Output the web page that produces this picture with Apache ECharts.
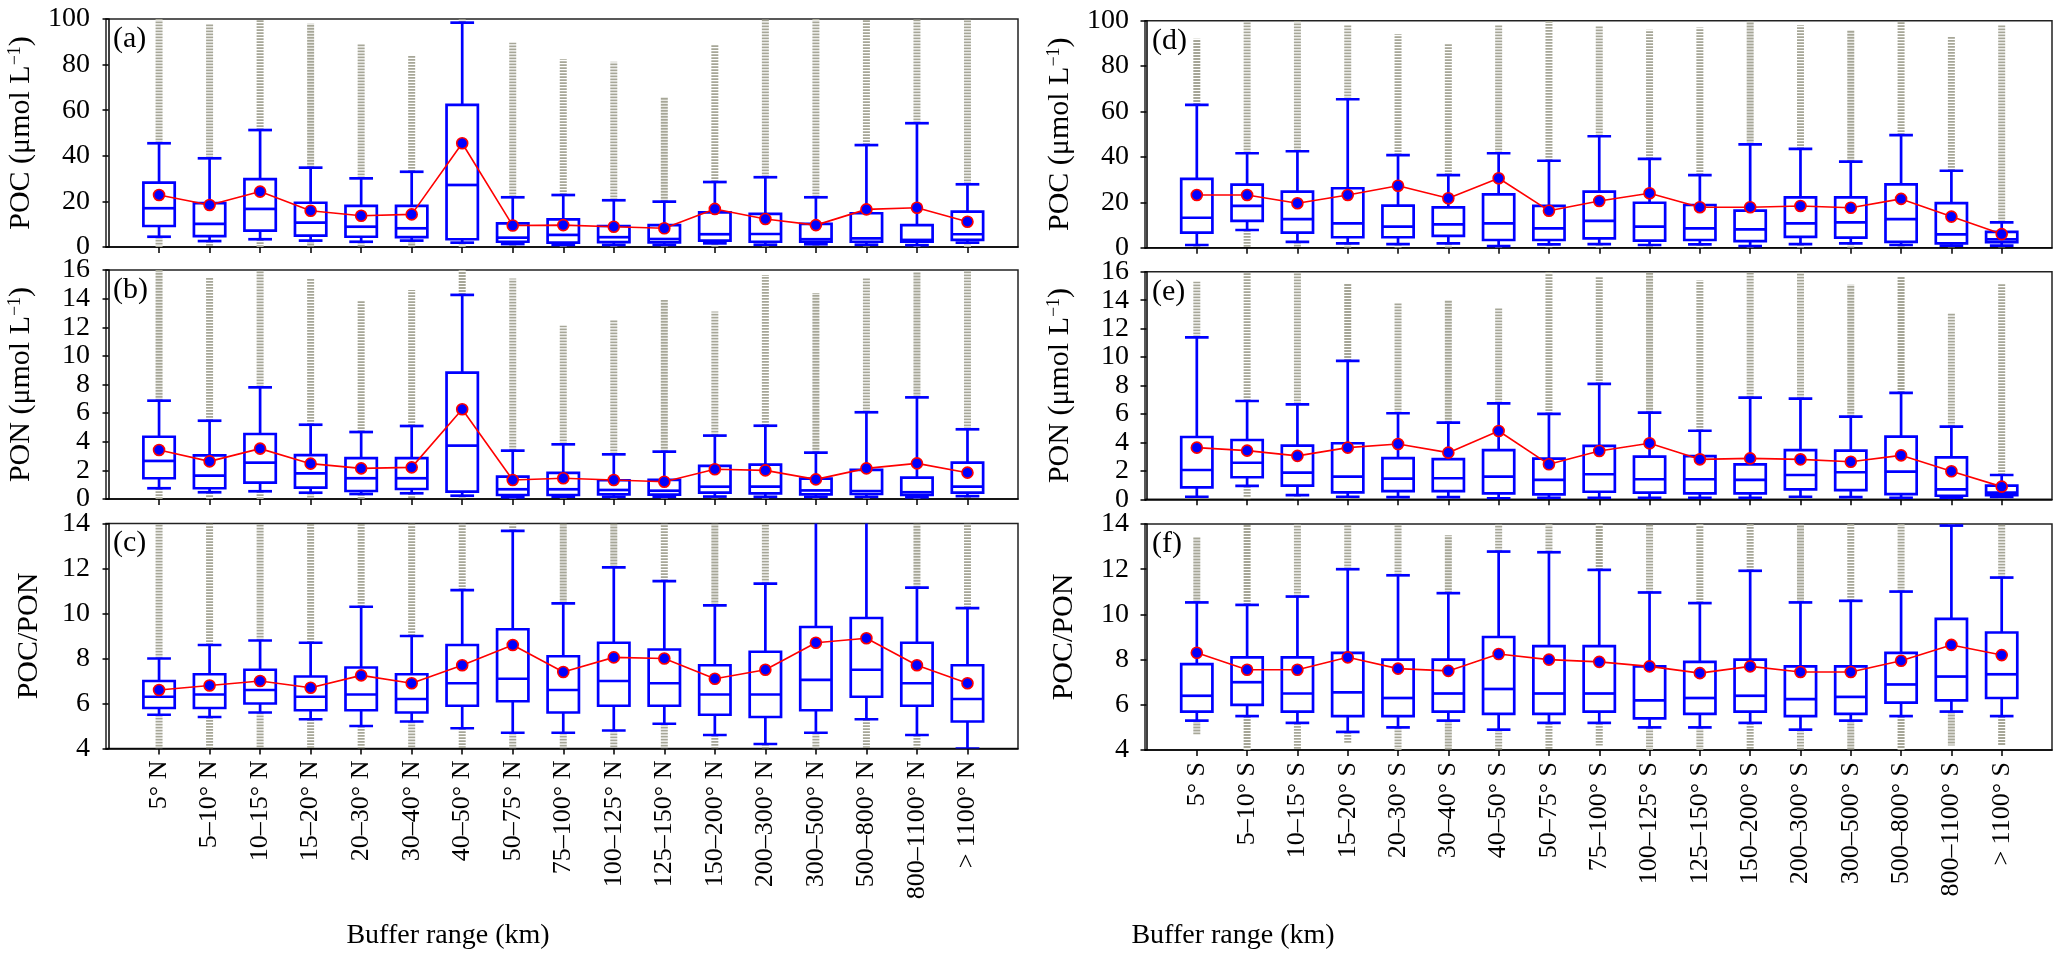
<!DOCTYPE html>
<html><head><meta charset="utf-8">
<script src="https://cdn.jsdelivr.net/npm/echarts@6/dist/echarts.min.js"></script>
<style>html,body{margin:0;padding:0;background:#fff}#c{width:2067px;height:961px}</style>
</head><body><div id="c"></div>
<script>
const catsN = ['5° N','5–10° N','10–15° N','15–20° N','20–30° N','30–40° N','40–50° N','50–75° N','75–100° N','100–125° N','125–150° N','150–200° N','200–300° N','300–500° N','500–800° N','800–1100° N','> 1100° N'];
const catsS = ['5° S','5–10° S','10–15° S','15–20° S','20–30° S','30–40° S','40–50° S','50–75° S','75–100° S','100–125° S','125–150° S','150–200° S','200–300° S','300–500° S','500–800° S','800–1100° S','> 1100° S'];

// (a) POC, north
const aLow  = [4.5,2.6,3.4,2.8,2.3,2.8,1.9,1.3,0.9,0.9,0.9,1.6,1.0,1.2,1.0,0.8,1.9];
const aQ1   = [9.2,4.8,7.2,5.0,4.5,4.3,3.4,2.3,1.9,2.1,2.0,2.8,2.3,2.3,2.3,2.3,3.1];
const aMed  = [17.0,10.1,16.7,10.7,8.9,8.2,27.2,4.1,5.3,4.3,3.5,5.6,5.7,3.4,3.8,3.1,5.6];
const aQ3   = [28.2,19.2,29.8,19.4,18.0,18.0,62.3,10.4,12.1,9.2,9.6,15.2,14.5,10.1,14.8,9.6,15.5];
const aHigh = [45.5,38.9,51.3,34.8,30.1,33.0,98.4,21.8,22.8,20.5,19.9,28.5,30.6,21.8,44.7,54.3,27.5];
const aMean = [22.8,18.4,24.3,15.9,13.7,14.3,45.5,9.4,9.6,8.9,8.2,16.7,12.3,9.6,16.5,17.2,11.1];
const aOutHi= [100,98,100,98,89,84,100,89.6,82.3,81.3,65.6,88.9,100,100,100,100,100];
const aOutLo= [0,0,0,0,0,0,0,0,0,0,0,0,0,0,0,0,0];

// (b) PON, north
const bLow  = [0.75,0.47,0.54,0.44,0.35,0.4,0.23,0.12,0.16,0.15,0.15,0.17,0.15,0.15,0.15,0.12,0.2];
const bQ1   = [1.45,0.75,1.14,0.79,0.56,0.7,0.51,0.28,0.28,0.33,0.3,0.44,0.4,0.33,0.35,0.28,0.44];
const bMed  = [2.66,1.63,2.54,1.79,1.45,1.45,3.73,0.68,0.68,0.63,0.58,0.86,0.86,0.6,0.56,0.47,0.86];
const bQ3   = [4.35,3.05,4.54,3.07,2.86,2.86,8.83,1.56,1.82,1.31,1.33,2.31,2.4,1.42,2.03,1.49,2.54];
const bHigh = [6.87,5.47,7.8,5.19,4.68,5.1,14.26,3.38,3.82,3.12,3.31,4.43,5.12,3.24,6.06,7.1,4.87];
const bMean = [3.42,2.63,3.52,2.47,2.14,2.21,6.27,1.33,1.45,1.33,1.21,2.08,2.0,1.37,2.14,2.49,1.84];
const bOutHi= [16,15.5,16,15.4,13.9,14.6,16,15.4,12.1,12.5,13.9,13.1,15.65,14.4,15.5,15.9,16];
const bOutLo= [0,0,0,0,0,0,0,0,0,0,0,0,0,0,0,0,0];

// (c) POC/PON, north
const cLow  = [5.5,5.4,5.6,5.3,5.0,5.2,4.9,4.7,4.7,4.8,5.1,4.6,4.2,4.7,5.3,4.6,4.0];
const cQ1   = [5.8,5.8,6.0,5.7,5.7,5.6,5.9,6.1,5.6,5.9,5.9,5.5,5.4,5.7,6.3,5.9,5.2];
const cMed  = [6.3,6.4,6.6,6.3,6.4,6.2,6.9,7.1,6.6,7.0,6.9,6.4,6.4,7.05,7.5,6.9,6.2];
const cQ3   = [7.0,7.3,7.5,7.2,7.6,7.3,8.6,9.3,8.1,8.7,8.4,7.7,8.3,9.4,9.8,8.7,7.7];
const cHigh = [8.0,8.6,8.8,8.7,10.3,9.0,11.04,13.67,10.45,12.05,11.44,10.36,11.33,14.5,14.5,11.15,10.24];
const cMean = [6.6,6.8,7.0,6.7,7.25,6.9,7.7,8.6,7.4,8.05,8.0,7.1,7.5,8.7,8.9,7.7,6.9];
const cOutHi= [14,14,14,14,14,14,14,14,14,14,14,14,14,14,14,14,14];
const cOutLo= [4,4,4,4,4,4,4,4,4,4,4,4,4,4,4,4,4];

// (d) POC, south
const dLow  = [1.2,7.8,2.6,1.9,1.6,1.9,0.7,1.5,1.6,1.2,1.5,0.7,1.6,1.9,1.2,0.9,0.9];
const dQ1   = [6.6,11.8,6.6,4.6,4.6,5.2,3.4,3.4,4.1,3.1,3.4,2.9,4.8,4.4,2.6,1.9,2.4];
const dMed  = [13.2,18.4,12.6,10.7,9.3,10.3,10.7,8.5,11.8,9.3,8.5,8.1,10.7,11.2,12.6,5.9,3.7];
const dQ3   = [30.3,27.8,24.7,26.2,18.5,17.8,23.5,18.4,24.7,19.8,18.8,16.3,22.2,22.2,27.9,19.6,7.0];
const dHigh = [62.9,41.6,42.5,65.4,40.8,32.0,41.6,38.3,49.1,39.1,32.0,45.5,43.5,37.9,49.6,33.9,11.2];
const dMean = [23.2,23.2,19.6,23.2,27.3,21.8,30.6,16.3,20.6,24.0,17.8,17.8,18.4,17.6,21.5,13.7,6.0];
const dOutHi= [92,100,100,98,94,90,98,100,98,96,97,100,98,96,100,93,98];
const dOutLo= [0,0,0,0,0,0,0,0,0,0,0,0,0,0,0,0,0];

// (e) PON, south
const eLow  = [0.18,0.94,0.3,0.18,0.15,0.15,0.07,0.1,0.1,0.1,0.1,0.1,0.18,0.15,0.1,0.1,0.16];
const eQ1   = [0.84,1.55,0.96,0.49,0.58,0.58,0.42,0.35,0.53,0.47,0.42,0.42,0.7,0.65,0.37,0.25,0.3];
const eMed  = [2.06,2.57,1.87,1.59,1.45,1.48,1.59,1.36,1.76,1.41,1.41,1.36,1.71,1.9,1.94,0.7,0.47];
const eQ3   = [4.38,4.17,3.77,3.94,2.9,2.83,3.45,2.86,3.75,3.0,3.04,2.46,3.45,3.42,4.4,2.95,0.96];
const eHigh = [11.39,6.91,6.68,9.73,6.05,5.39,6.75,6.0,8.11,6.09,4.82,7.15,7.08,5.81,7.48,5.11,1.71];
const eMean = [3.63,3.42,3.05,3.63,3.89,3.28,4.8,2.46,3.4,3.94,2.81,2.88,2.81,2.64,3.09,1.97,0.89];
const eOutHi= [15.3,16,16,15.2,13.8,14.0,13.5,16,15.65,16,15.4,16,16,15.1,15.7,13.1,15.2];
const eOutLo= [0,0,0,0,0,0,0,0,0,0,0,0,0,0,0,0,0];

// (f) POC/PON, south
const fLow  = [5.3,5.5,5.2,4.8,5.0,5.3,4.9,5.2,5.2,5.0,5.0,5.2,4.9,5.3,5.5,5.7,5.5];
const fQ1   = [5.7,6.0,5.7,5.5,5.5,5.7,5.6,5.6,5.7,5.4,5.6,5.7,5.5,5.6,6.1,6.2,6.3];
const fMed  = [6.4,7.0,6.5,6.55,6.3,6.5,6.7,6.5,6.5,6.2,6.3,6.4,6.25,6.35,6.9,7.25,7.35];
const fQ3   = [7.8,8.1,8.1,8.3,8.0,8.0,9.0,8.6,8.6,7.7,7.9,8.0,7.7,7.7,8.3,9.8,9.2];
const fHigh = [10.53,10.42,10.79,12.0,11.73,10.94,12.78,12.75,11.97,10.97,10.5,11.93,10.53,10.6,11.01,13.93,11.63];
const fMean = [8.3,7.55,7.55,8.1,7.6,7.5,8.25,8.0,7.9,7.7,7.4,7.7,7.45,7.45,7.95,8.65,8.2];
const fOutHi= [13.4,14,14,14,14,13.5,14,14,14,14,14,14,14,14,14,14,14];
const fOutLo= [4.7,4,4,4.3,4,4,4,4,4.2,4,4,4,4,4,4,4.2,4.2];

const xTitle = 'Buffer range (km)';
const BLUE = '#0000ff', RED = '#ff0000', GREY = '#a6a697';
const FONT = '"Liberation Serif", "Times New Roman", serif';

const panels = [
  {id:'a', grid:{left:106, top:19, width:912, height:228}, xmin:-0.05, y:[0,100,20], name:'POC (μmol L{s|−1})', gap:70, cats:catsN, lab:false,
   d:[aLow,aQ1,aMed,aQ3,aHigh,aMean,aOutHi,aOutLo]},
  {id:'b', grid:{left:106, top:270, width:912, height:229}, xmin:-0.05, y:[0,16,2], name:'PON (μmol L{s|−1})', gap:70, cats:catsN, lab:false,
   d:[bLow,bQ1,bMed,bQ3,bHigh,bMean,bOutHi,bOutLo]},
  {id:'c', grid:{left:106, top:523.5, width:912, height:225}, xmin:-0.05, y:[4,14,2], name:'POC/PON', gap:62, cats:catsN, lab:true,
   d:[cLow,cQ1,cMed,cQ3,cHigh,cMean,cOutHi,cOutLo]},
  {id:'d', grid:{left:1145, top:20.7, width:907, height:227}, xmin:-0.03, y:[0,100,20], name:'POC (μmol L{s|−1})', gap:70, cats:catsS, lab:false,
   d:[dLow,dQ1,dMed,dQ3,dHigh,dMean,dOutHi,dOutLo]},
  {id:'e', grid:{left:1145, top:271.7, width:907, height:227.6}, xmin:-0.03, y:[0,16,2], name:'PON (μmol L{s|−1})', gap:70, cats:catsS, lab:false,
   d:[eLow,eQ1,eMed,eQ3,eHigh,eMean,eOutHi,eOutLo]},
  {id:'f', grid:{left:1145, top:524, width:907, height:226}, xmin:-0.03, y:[4,14,2], name:'POC/PON', gap:66, cats:catsS, lab:true,
   d:[fLow,fQ1,fMed,fQ3,fHigh,fMean,fOutHi,fOutLo]}
];

const idx = Array.from({length:17},(_,i)=>i+1);
const grids=[], xAxes=[], yAxes=[], series=[], graphics=[];

function boxRender(params, api){
  const x = api.value(0);
  const lo=api.coord([x,api.value(1)]), q1=api.coord([x,api.value(2)]), md=api.coord([x,api.value(3)]),
        q3=api.coord([x,api.value(4)]), hi=api.coord([x,api.value(5)]);
  const bw = api.size([0.62,0])[0], cw = api.size([0.47,0])[0];
  const cx = lo[0];
  const st = {stroke:BLUE, lineWidth:2.7, fill:null};
  return {type:'group', children:[
    {type:'line', shape:{x1:cx,y1:q3[1],x2:cx,y2:hi[1]}, style:st},
    {type:'line', shape:{x1:cx,y1:q1[1],x2:cx,y2:lo[1]}, style:st},
    {type:'line', shape:{x1:cx-cw/2,y1:hi[1],x2:cx+cw/2,y2:hi[1]}, style:st},
    {type:'line', shape:{x1:cx-cw/2,y1:lo[1],x2:cx+cw/2,y2:lo[1]}, style:st},
    {type:'rect', shape:{x:cx-bw/2,y:q3[1],width:bw,height:q1[1]-q3[1]}, style:{stroke:BLUE,lineWidth:2.7,fill:'rgba(255,255,255,0)'}},
    {type:'line', shape:{x1:cx-bw/2,y1:md[1],x2:cx+bw/2,y2:md[1]}, style:st}
  ]};
}
function outRender(params, api){
  const x = api.value(0);
  const hi=api.coord([x,api.value(1)]), oh=api.coord([x,api.value(2)]),
        lo=api.coord([x,api.value(3)]), ol=api.coord([x,api.value(4)]);
  const st = {stroke:GREY, lineWidth:7, lineDash:[1.8,1.2], fill:null};
  const ch = [];
  if (api.value(2) > api.value(1)) ch.push({type:'line', shape:{x1:hi[0],y1:hi[1],x2:oh[0],y2:oh[1]}, style:st});
  if (api.value(4) < api.value(3)) ch.push({type:'line', shape:{x1:lo[0],y1:lo[1],x2:ol[0],y2:ol[1]}, style:st});
  return {type:'group', children:ch};
}

panels.forEach((p,k)=>{
  grids.push(Object.assign({show:true, borderColor:'#222', borderWidth:1.5, backgroundColor:'transparent'}, p.grid));
  xAxes.push({type:'value', gridIndex:k, min:p.xmin, max:18,
    axisLine:{show:true, onZero:false, lineStyle:{color:'#000', width:1.5}},
    axisTick:{show:true, customValues:idx, length:6, inside:false, lineStyle:{color:'#000', width:1.5}},
    axisLabel:{show:p.lab, customValues:idx, rotate:90, margin:12, fontFamily:FONT, fontSize:26, color:'#000',
      formatter:(v)=>p.cats[Math.round(v)-1]||''},
    splitLine:{show:false}});
  yAxes.push({type:'value', gridIndex:k, min:p.y[0], max:p.y[1], interval:p.y[2],
    name:p.name, nameLocation:'middle', nameGap:p.gap,
    nameTextStyle:{fontFamily:FONT, fontSize:30, color:'#000', rich:{s:{fontFamily:FONT, fontSize:18, verticalAlign:'top', color:'#000', padding:[0,0,12,0]}}},
    axisLine:{show:true, lineStyle:{color:'#000', width:1.5}},
    axisTick:{show:true, length:6, inside:false, lineStyle:{color:'#000', width:1.5}},
    axisLabel:{margin:16, fontFamily:FONT, fontSize:28, color:'#000'},
    splitLine:{show:false}});
  const [lo,q1,md,q3,hi,mn,oh,ol] = p.d;
  series.push({type:'custom', xAxisIndex:k, yAxisIndex:k, clip:true, z:1, renderItem:outRender, silent:true,
    data: idx.map((x,i)=>[x, hi[i], oh[i], lo[i], ol[i]])});
  series.push({type:'custom', xAxisIndex:k, yAxisIndex:k, clip:true, z:2, renderItem:boxRender, silent:true,
    data: idx.map((x,i)=>[x, lo[i], q1[i], md[i], q3[i], hi[i]])});
  series.push({type:'line', xAxisIndex:k, yAxisIndex:k, z:3, silent:true,
    data: idx.map((x,i)=>[x, mn[i]]), symbol:'circle', symbolSize:11,
    itemStyle:{color:BLUE, borderColor:RED, borderWidth:1.6},
    lineStyle:{color:RED, width:1.6}});
  graphics.push({type:'text', left:p.grid.left+7, top:p.grid.top+5, z:10,
    style:{text:'('+p.id+')', font:'30px "Liberation Serif"', fill:'#000'}});
});

const chart = echarts.init(document.getElementById('c'), null, {renderer:'canvas'});
chart.setOption({
  animation:false,
  backgroundColor:'#fff',
  grid:grids, xAxis:xAxes, yAxis:yAxes, series:series,
  graphic:[
    ...graphics,
    {type:'text', x:448, y:922, style:{text:xTitle, font:'28px "Liberation Serif"', fill:'#000', textAlign:'center'}},
    {type:'text', x:1233, y:922, style:{text:xTitle, font:'28px "Liberation Serif"', fill:'#000', textAlign:'center'}}
  ]
});
</script></body></html>
